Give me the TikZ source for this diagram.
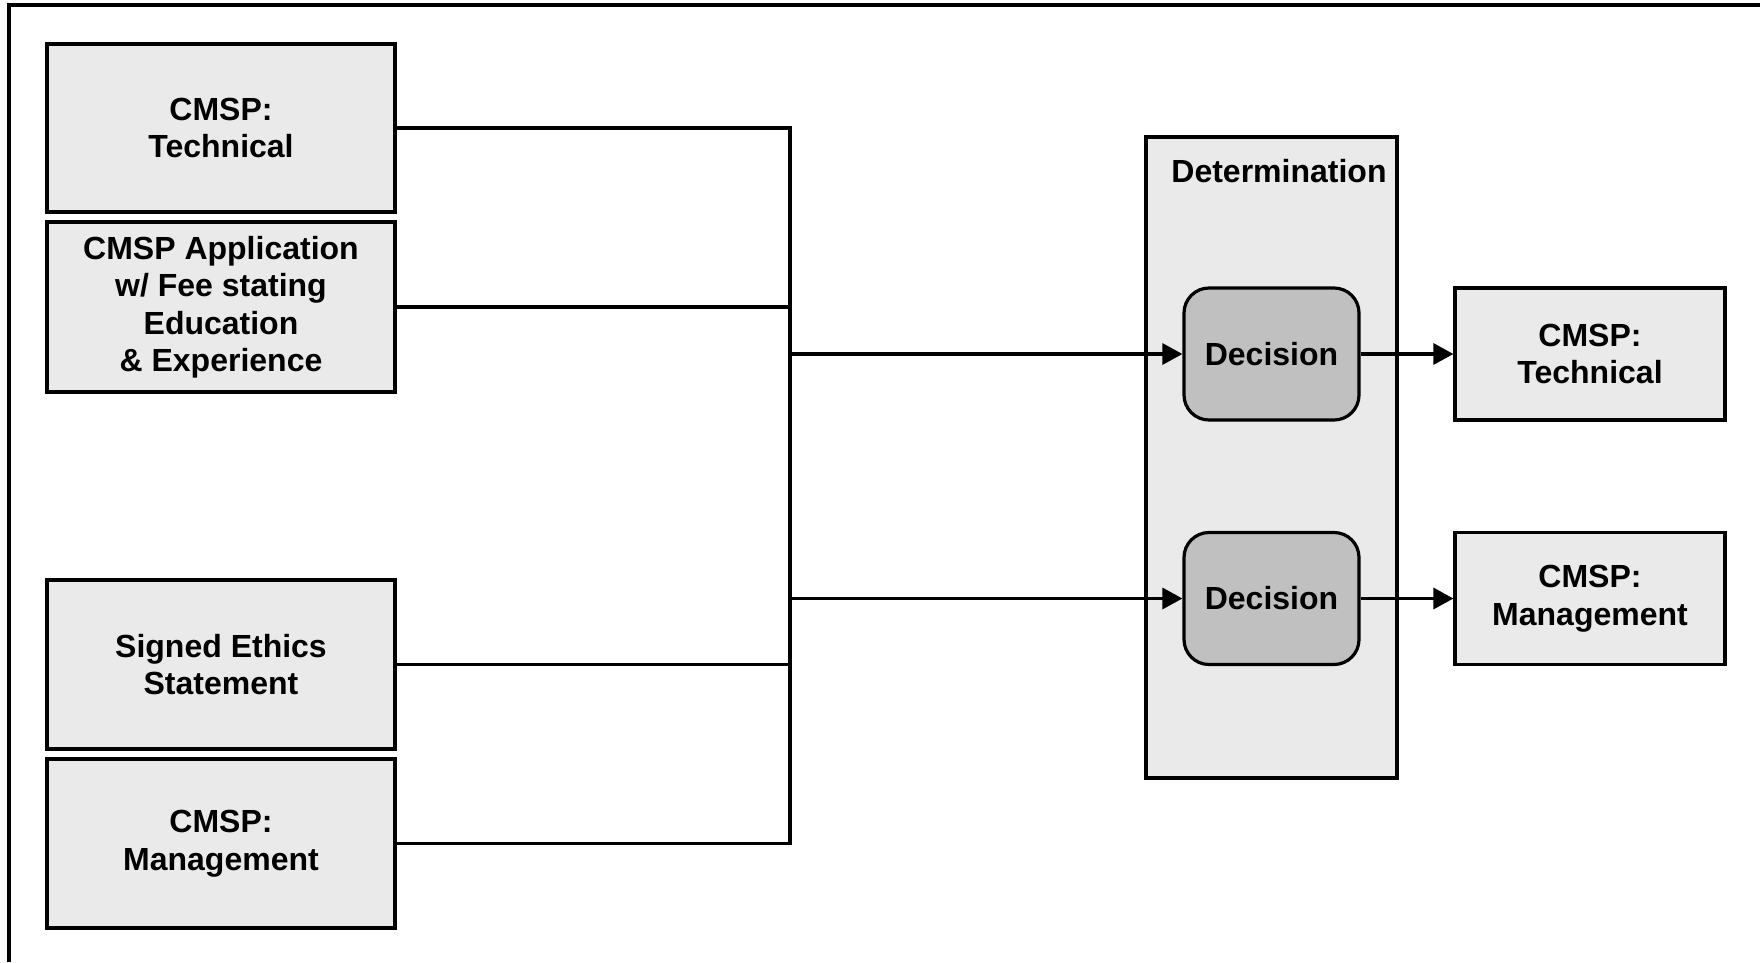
\documentclass[tikz,border=0pt]{standalone}
\usepackage{fontspec}
\setmainfont{Liberation Sans}
\usetikzlibrary{arrows.meta}

\definecolor{boxgray}{HTML}{EAEAEA}
\definecolor{decgray}{HTML}{C0C0C0}

\begin{document}
\begin{tikzpicture}[x=1pt,y=-1pt,line width=3.2pt,
    -{Triangle[length=20pt,width=21pt]}]
  \tikzstyle{docbox}=[draw,fill=boxgray,minimum width=348pt,minimum height=169pt,
    align=center,font=\fontsize{32}{37.5}\selectfont\bfseries,inner sep=0pt]
  \tikzstyle{outbox}=[docbox,minimum width=270pt,minimum height=132pt]
  \tikzstyle{decbox}=[docbox,fill=decgray,rounded corners=25pt,
    minimum width=175pt,minimum height=132pt]
  \useasboundingbox (0,0) rectangle (1760,962);
  \draw[-] (9,962) -- (9,5) -- (1760,5);
  % inputs
  \node[docbox,minimum height=168pt] (tech)   at (221,128)   {CMSP:\\Technical};
  \node[docbox,minimum height=170pt] (app)    at (221,307)   {CMSP Application\\w/ Fee stating\\Education\\\& Experience};
  \node[docbox] (ethics) at (221,664.5) {Signed Ethics\\Statement};
  \node[docbox] (mgmt)   at (221,843.5) {CMSP:\\Management};
  % determination
  \node[docbox,minimum width=251pt,minimum height=641pt] (determ) at (1271.5,457.5) {};
  \node[font=\fontsize{32}{37.5}\selectfont\bfseries] (detlabel) at (1279,171) {Determination};
  \node[decbox] (dec1) at (1271.5,354)   {Decision};
  \node[decbox] (dec2) at (1271.5,598.5) {Decision};
  % outputs
  \node[outbox] (outtech) at (1590,354)   {CMSP:\\Technical};
  \node[outbox] (outmgmt) at (1590,598.5) {CMSP:\\Management};
  % connectors
  \coordinate (bus) at (790,0);
  \draw[-] (tech.east) -- (tech.east -| bus) -- (mgmt.east -| bus) -- (mgmt.east);
  \draw[-] (app.east) -- (app.east -| bus);
  \draw[-] (ethics.east) -- (ethics.east -| bus);
  \draw (dec1.west -| bus) -- (dec1.west);
  \draw (dec2.west -| bus) -- (dec2.west);
  \draw (dec1) -- (outtech);
  \draw (dec2) -- (outmgmt);
\end{tikzpicture}
\end{document}
